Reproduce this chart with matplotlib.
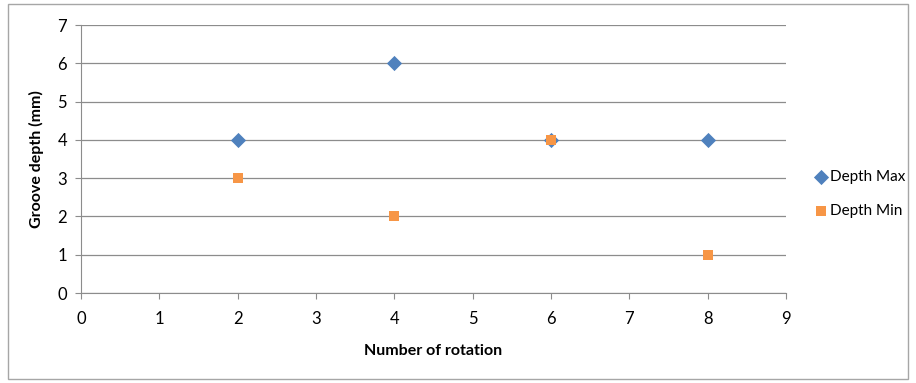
import matplotlib
matplotlib.use("Agg")
import matplotlib.pyplot as plt
from matplotlib.patches import Rectangle

plt.rcParams['font.family'] = ['Lato', 'DejaVu Sans']

rotations = [2, 4, 6, 8]
depth_max = [4, 6, 4, 4]
depth_min = [3, 2, 4, 1]

fig = plt.figure(figsize=(9.16, 3.83), dpi=100)
fig.patches.append(Rectangle((8/916, 1-379/383), 900/916, 375/383, transform=fig.transFigure,
                             fill=False, edgecolor='#a6a6a6', linewidth=1))
ax = fig.add_axes([81/916, 1-293/383, 705/916, 268/383])

ax.scatter(rotations, depth_max, marker='D', s=60, color='#4F81BD', label='Depth Max', zorder=3, linewidths=0)
ax.scatter(rotations, depth_min, marker='s', s=55, color='#F79646', label='Depth Min', zorder=4, linewidths=0)

ax.set_xlim(0, 9)
ax.set_ylim(0, 7)
ax.set_xticks(range(0, 10))
ax.set_yticks(range(0, 8))
ax.yaxis.grid(True, color='#8c8c8c', linewidth=0.9)
ax.set_axisbelow(True)
for s in ['top', 'right']:
    ax.spines[s].set_visible(False)
for s in ['left', 'bottom']:
    ax.spines[s].set_color('#8c8c8c')
ax.tick_params(axis='both', colors='#8c8c8c', labelcolor='black', labelsize=12, length=4)
ax.tick_params(axis='x', pad=9)
ax.tick_params(axis='y', pad=6)
ax.set_xlabel('Number of rotation', fontsize=11.5, fontweight='bold', labelpad=12)
ax.set_ylabel('Groove depth (mm)', fontsize=11.5, fontweight='bold', labelpad=10)

leg = fig.legend(loc='center left', bbox_to_anchor=(813/916, 1-194/383), frameon=False, fontsize=11,
                 handletextpad=0.1, labelspacing=1.35, handlelength=1.0, borderpad=0, borderaxespad=0)

fig.savefig('out.png', dpi=100)
